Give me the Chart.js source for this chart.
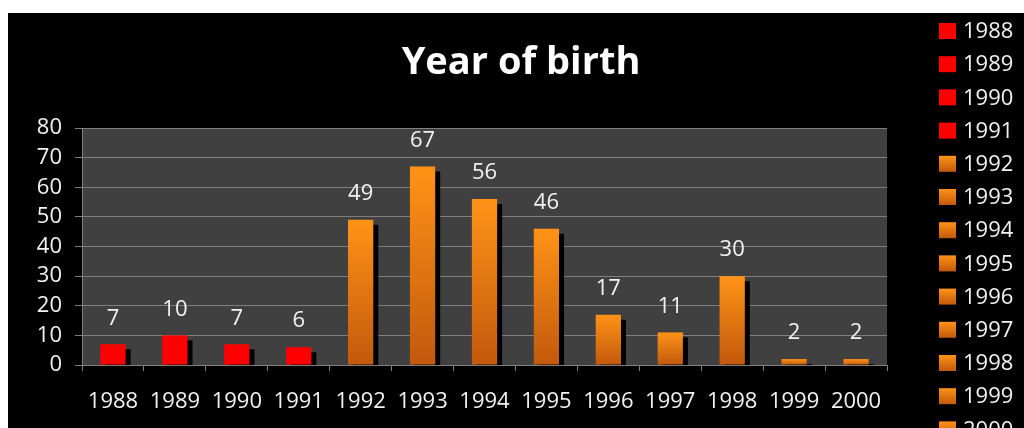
<!DOCTYPE html>
<html>
<head>
<meta charset="utf-8">
<title>Year of birth</title>
<script src="https://cdn.jsdelivr.net/npm/chart.js@4.4.1/dist/chart.umd.min.js"></script>
<style>
  html, body { margin: 0; padding: 0; background: #fff; }
  .chart-box {
    position: absolute;
    left: 8px;
    top: 13px;
    width: 1016px;
    height: 415px;
    background: #000;
    overflow: hidden;
  }
</style>
</head>
<body>
<div class="chart-box"><canvas id="birthChart"></canvas></div>
<script>
// 数据
const years = ['1988', '1989', '1990', '1991', '1992', '1993', '1994', '1995', '1996', '1997', '1998', '1999', '2000'];
const counts = [7, 10, 7, 6, 49, 67, 56, 46, 17, 11, 30, 2, 2];
const redYears = ['1988', '1989', '1990', '1991'];
const yTicks = [0, 10, 20, 30, 40, 50, 60, 70, 80];
const chartTitle = 'Year of birth';

const FONT = '"Open Sans", "DejaVu Sans", sans-serif';
const TEXT = '#f2f2f2';
const GRID = '#7f7f7f';
const FONT_SIZE = 22;

document.addEventListener('DOMContentLoaded', () => {
  setupBirthChart();
});

// 橙色渐变 (每根柱子从上到下)
function orangeGradient(ctx, top, bottom) {
  const g = ctx.createLinearGradient(0, top, 0, bottom);
  g.addColorStop(0, '#ff9317');
  g.addColorStop(1, '#c2590c');
  return g;
}

function barFill(context) {
  const chart = context.chart;
  if (redYears.includes(years[context.dataIndex])) return '#ff0000';
  const y = chart.scales.y;
  if (!y || !chart.chartArea) return '#f0861a';
  return orangeGradient(chart.ctx, y.getPixelForValue(context.raw), y.getPixelForValue(0));
}

// 绘图区背景
const plotBackground = {
  id: 'plotBackground',
  beforeDraw(chart) {
    const { ctx, chartArea: a } = chart;
    ctx.save();
    ctx.fillStyle = '#404040';
    ctx.fillRect(a.left, a.top, a.right - a.left, a.bottom - a.top);
    ctx.restore();
  }
};

// 柱子阴影
const barShadow = {
  id: 'barShadow',
  beforeDatasetDraw(chart) {
    const ctx = chart.ctx;
    ctx.save();
    ctx.shadowColor = '#000';
    ctx.shadowBlur = 0;
    ctx.shadowOffsetX = 5;
    ctx.shadowOffsetY = 5;
  },
  afterDatasetDraw(chart) {
    chart.ctx.restore();
  }
};

// 数值标签
const valueLabels = {
  id: 'valueLabels',
  afterDatasetsDraw(chart) {
    const ctx = chart.ctx;
    const meta = chart.getDatasetMeta(0);
    ctx.save();
    ctx.font = `${FONT_SIZE}px ${FONT}`;
    ctx.fillStyle = TEXT;
    ctx.textAlign = 'center';
    ctx.textBaseline = 'middle';
    meta.data.forEach((bar, i) => {
      ctx.fillText(String(counts[i]), bar.x, bar.y - 26);
    });
    ctx.restore();
  }
};

// 标题和右侧图例
const titleAndLegend = {
  id: 'titleAndLegend',
  afterDraw(chart) {
    const ctx = chart.ctx;
    ctx.save();
    ctx.font = `bold 38px ${FONT}`;
    ctx.fillStyle = '#fff';
    ctx.textAlign = 'center';
    ctx.textBaseline = 'middle';
    ctx.fillText(chartTitle, chart.width / 2 + 5, 50);

    ctx.font = `${FONT_SIZE}px ${FONT}`;
    ctx.textAlign = 'left';
    years.forEach((year, i) => {
      const top = 10 + i * 33.2;
      ctx.fillStyle = redYears.includes(year) ? '#ff0000' : orangeGradient(ctx, top, top + 16);
      ctx.fillRect(931, top, 17, 16);
      ctx.fillStyle = TEXT;
      ctx.fillText(year, 955, top + 9);
    });
    ctx.restore();
  }
};

function setupBirthChart() {
  const ctx = document.getElementById('birthChart').getContext('2d');

  new Chart(ctx, {
    type: 'bar',
    data: {
      labels: years,
      datasets: [{
        label: chartTitle,
        data: counts,
        backgroundColor: barFill,
        borderWidth: 0,
        barPercentage: 0.6,
        categoryPercentage: 0.68,
        clip: 0
      }]
    },
    options: {
      responsive: true,
      maintainAspectRatio: false,
      animation: false,
      layout: {
        padding: { top: 115, right: 137, bottom: 0, left: 0 }
      },
      scales: {
        x: {
          afterFit: (scale) => { scale.height = 63; },
          grid: {
            offset: true,
            drawOnChartArea: false,
            drawTicks: true,
            tickLength: 6,
            color: GRID
          },
          border: { color: GRID },
          ticks: {
            color: TEXT,
            font: { family: FONT, size: FONT_SIZE },
            padding: 18,
            maxRotation: 0,
            autoSkip: false
          }
        },
        y: {
          min: 0,
          max: 80,
          afterFit: (scale) => { scale.width = 74; },
          afterBuildTicks: (scale) => {
            scale.ticks = yTicks.map(v => ({ value: v }));
          },
          grid: {
            color: GRID,
            tickLength: 7,
            drawTicks: true
          },
          border: { color: GRID },
          ticks: {
            color: TEXT,
            font: { family: FONT, size: FONT_SIZE },
            padding: 13
          }
        }
      },
      plugins: {
        legend: { display: false },
        title: { display: false },
        tooltip: { enabled: false }
      }
    },
    plugins: [plotBackground, barShadow, valueLabels, titleAndLegend]
  });
}
</script>
</body>
</html>
